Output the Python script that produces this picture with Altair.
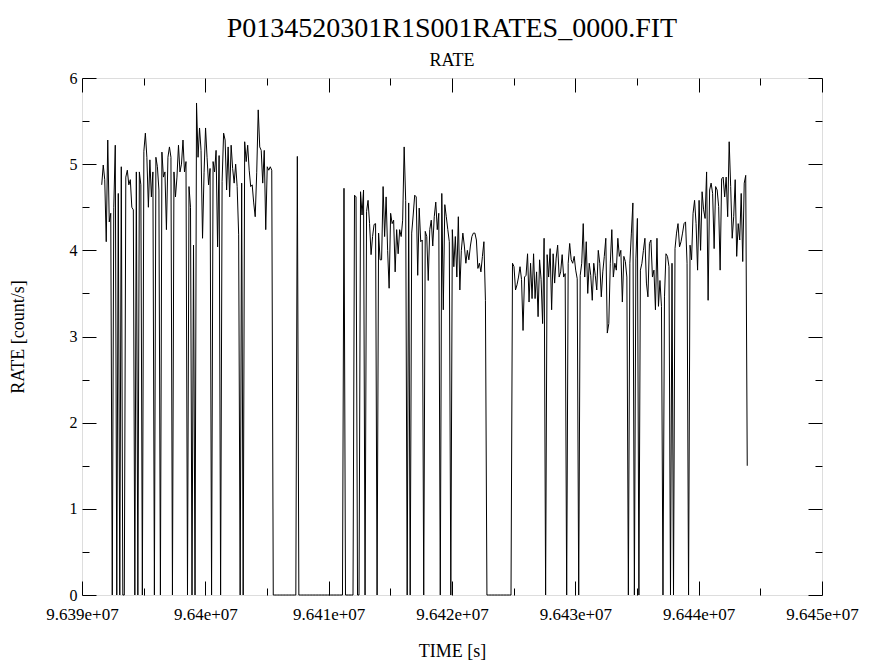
import altair as alt
import pandas as pd

# ---- data ----
T_START = 96391600   # time of first bin [s]
T_STEP = 122         # bin width [s]

seg1 = [4.76, 4.99, 4.82, 4.10, 5.28, 4.33, 4.43, 0, 4.50, 5.22,
        0, 4.66, 0, 4.97, 0, 0, 4.85, 4.93, 4.76, 4.82,
        4.50, 4.47, 0, 4.91, 0, 4.91, 4.76, 0, 5.15, 5.36,
        5.08, 4.50, 5.05, 4.62, 4.91, 0, 5.08, 4.97, 4.70, 0,
        5.14, 4.85, 4.91, 4.24, 5.08, 5.20, 5.08, 0, 4.91, 4.62,
        4.85, 5.22, 4.91, 5.00, 5.28, 4.91, 5.03, 0, 4.74, 4.50,
        0, 4.06, 0, 5.71, 5.08, 5.42, 5.16, 4.14, 4.90, 5.42,
        5.08, 4.76, 4.95, 0, 5.03, 4.91, 5.16, 4.04, 5.10, 0,
        4.80, 5.36, 5.28, 4.70, 5.20, 4.62, 5.22, 4.95, 4.78, 5.00,
        4.74, 4.18, 0, 4.78, 0, 5.26, 5.03, 5.22, 4.93, 4.74,
        4.76, 4.55, 4.39, 4.90, 5.63, 5.20, 5.16, 4.78, 5.16, 4.24,
        4.97, 4.93, 4.97, 4.93, 0]

gap1 = [0, 0, 0, 0, 0, 0, 0, 0, 0, 0, 0, 0, 0, 0, 0,
        5.09,
        0, 0, 0, 0, 0, 0, 0, 0, 0, 0, 0, 0, 0, 0, 0,
        0, 0, 0, 0, 0, 0, 0, 0, 0, 0, 0, 0, 0, 0, 0,
        4.72,
        0, 0, 0, 0, 0, 0,
        4.64, 4.62, 0, 0]

seg2 = [4.68, 4.41, 4.70, 0, 4.45, 4.58, 4.31, 3.95, 4.16, 4.30,
        4.31, 0, 4.20, 3.89, 3.89, 4.74, 4.16, 4.62, 4.00, 3.56,
        4.43, 4.31, 4.35, 3.75, 4.24, 3.96, 4.24, 4.16, 4.35, 5.20,
        4.58, 0, 4.55, 0, 4.20, 4.41, 4.64, 4.62, 3.71, 4.49,
        4.10, 4.12, 0, 4.22, 4.16, 3.65, 4.24, 4.35, 4.05, 4.39,
        4.56, 4.24, 4.43, 0, 4.66, 3.31, 4.53, 4.39, 4.24, 4.10,
        0, 4.24, 3.81, 4.16, 3.69, 4.39, 3.54, 4.00, 4.20, 4.05,
        3.85, 4.00, 3.89, 4.05, 4.16, 4.20, 4.20, 4.12, 3.79, 3.85,
        3.75, 3.93, 4.10, 3.42, 0]

gap2 = [0, 0, 0, 0, 0, 0, 0, 0, 0, 0, 0, 0, 0, 0, 0, 0]

seg3 = [3.85, 3.81, 3.54, 3.60, 3.69, 3.81, 3.66, 3.07, 3.69, 3.71,
        3.96, 3.40, 3.85, 3.44, 3.96, 3.44, 3.75, 3.23, 3.89, 3.66,
        3.15, 4.14, 0, 3.95, 3.69, 4.02, 3.31, 3.96, 3.62, 3.91,
        4.06, 3.69, 3.75, 3.95, 3.69, 3.73, 0, 3.85, 4.08, 3.89,
        3.85, 3.93, 3.77, 3.67, 0, 3.71, 3.85, 4.31, 3.69, 4.10,
        3.50, 3.85, 3.71, 3.42, 3.85, 3.71, 3.54, 4.00, 3.85, 3.46,
        3.75, 3.93, 4.14, 3.04, 3.15, 3.85, 4.24, 3.69, 3.85, 3.77,
        4.14, 3.93, 4.00, 3.40, 3.93, 3.87, 3.69, 0, 3.85, 4.20,
        4.55, 0, 3.90, 4.37, 0, 3.77, 3.85, 4.00, 4.14, 3.62,
        3.46, 4.08, 4.12, 3.69, 3.77, 3.31, 4.14, 3.35, 3.65, 3.35,
        0, 3.46, 3.96, 3.93, 3.81, 0, 3.85, 0, 4.02, 4.20,
        4.31, 4.04, 4.10, 4.20, 4.31, 4.33, 3.85, 0, 4.06, 3.89,
        4.43, 4.58, 4.31, 3.77, 4.58, 4.00, 4.68, 4.47, 4.37, 4.91,
        3.42, 4.70, 4.78, 4.66, 4.02, 4.74, 4.70, 4.51, 3.77, 4.83,
        4.85, 4.62, 4.85, 4.39, 5.26, 4.74, 4.14, 4.39, 4.82, 3.93,
        4.31, 4.12, 4.66, 3.87, 4.78, 4.87, 1.50]

rate = seg1 + gap1 + seg2 + gap2 + seg3
time = [T_START + T_STEP * i for i in range(len(rate))]

x_ticks = [96390000, 96395000, 96400000, 96405000, 96410000, 96415000, 96420000,
           96425000, 96430000, 96435000, 96440000, 96445000, 96450000]
y_ticks = [0, 0.5, 1, 1.5, 2, 2.5, 3, 3.5, 4, 4.5, 5, 5.5, 6]

TITLE = "P0134520301R1S001RATES_0000.FIT"
SUBTITLE = "RATE"
FONT = "Liberation Serif"

W, H = 740, 517
MAJ, MIN = 14, 7

df = pd.DataFrame({"TIME": time, "RATE": rate})

x_axis = alt.Axis(
    values=x_ticks,
    title="TIME [s]",
    labelExpr="datum.value % 10000 === 0 ? replace(format(datum.value, '.4~e'), 'e+', 'e+0') : ''",
    labelFont=FONT, labelFontSize=17, labelColor="black", labelPadding=11,
    labelFlush=False, labelOverlap=False,
    ticks=False, domain=False,
    grid=True, gridColor="black", gridOpacity=1, gridWidth=1,
    gridDash={"condition": {"test": "datum.value % 10000 === 0", "value": [MAJ, H - 2 * MAJ]},
              "value": [MIN, H - 2 * MIN]},
    titleFont=FONT, titleFontSize=18, titleFontWeight="normal", titleColor="black",
    titleY=56, titleBaseline="middle",
)

y_axis = alt.Axis(
    values=y_ticks,
    title="RATE [count/s]",
    labelExpr="datum.value % 1 === 0 ? format(datum.value, 'd') : ''",
    labelFont=FONT, labelFontSize=16, labelColor="black", labelPadding=5,
    labelFlush=False, labelOverlap=False,
    ticks=False, domain=False,
    grid=True, gridColor="black", gridOpacity=1, gridWidth=1,
    gridDash={"condition": {"test": "datum.value % 1 === 0", "value": [MAJ, W - 2 * MAJ]},
              "value": [MIN, W - 2 * MIN]},
    titleFont=FONT, titleFontSize=18, titleFontWeight="normal", titleColor="black",
    titleX=-64, titleBaseline="middle",
)

chart = (
    alt.Chart(df)
    .mark_line(color="black", strokeWidth=1)
    .encode(
        x=alt.X("TIME:Q", scale=alt.Scale(domain=[96390000, 96450000], nice=False, zero=False), axis=x_axis),
        y=alt.Y("RATE:Q", scale=alt.Scale(domain=[0, 6], nice=False, zero=False), axis=y_axis),
    )
    .properties(
        width=W,
        height=H,
        title=alt.TitleParams(
            text=TITLE, subtitle=SUBTITLE,
            font=FONT, fontSize=28, fontWeight="normal", color="black",
            subtitleFont=FONT, subtitleFontSize=18, subtitleColor="black",
            anchor="middle", offset=0, subtitlePadding=9,
        ),
        autosize=alt.AutoSizeParams(type="none"),
        padding={"left": 82, "top": 78, "right": 48, "bottom": 71},
    )
    .configure_view(stroke="black", strokeWidth=1.5)
    .configure(background="white")
)

chart.save("out.html", embed_options={"renderer": "svg", "actions": False})
